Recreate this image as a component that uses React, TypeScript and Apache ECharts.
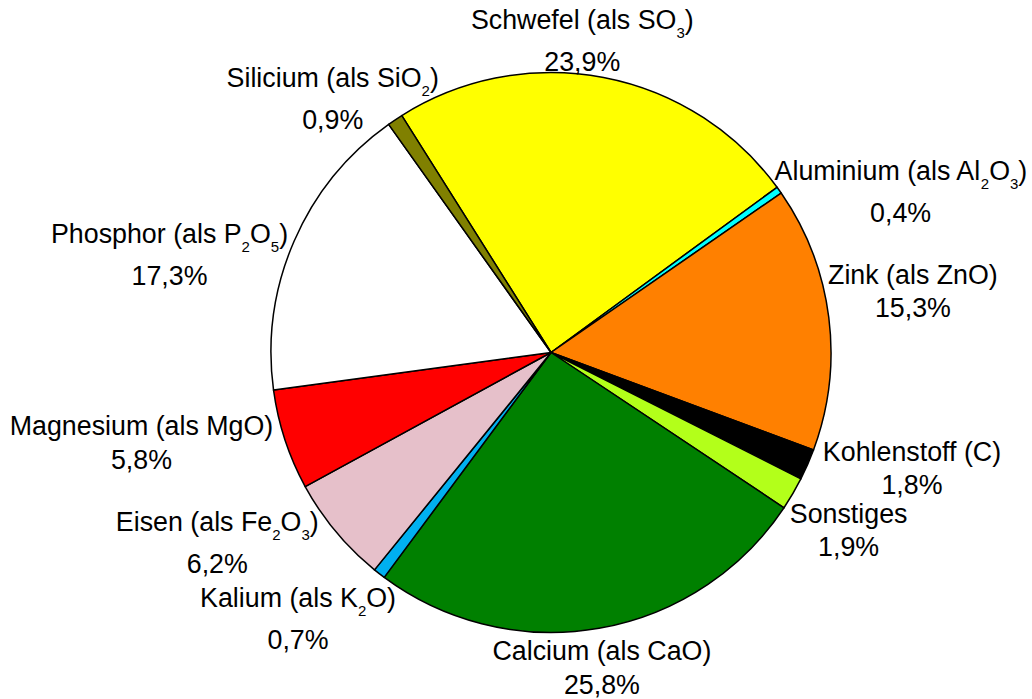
import React, { useEffect, useRef } from 'react';
import * as echarts from 'echarts';

// ---- data ----
const categories: string[] = [
  'Schwefel (als SO3)',
  'Aluminium (als Al2O3)',
  'Zink (als ZnO)',
  'Kohlenstoff (C)',
  'Sonstiges',
  'Calcium (als CaO)',
  'Kalium (als K2O)',
  'Eisen (als Fe2O3)',
  'Magnesium (als MgO)',
  'Phosphor (als P2O5)',
  'Silicium (als SiO2)',
];
const shares: number[] = [23.9, 0.4, 15.3, 1.8, 1.9, 25.8, 0.7, 6.2, 5.8, 17.3, 0.9];
const sliceColors: string[] = [
  '#FFFF00', '#00FFFF', '#FF8000', '#000000', '#B3FF1A', '#008000',
  '#00B0F0', '#E6C0CA', '#FF0000', '#FFFFFF', '#808000',
];

// ---- layout ----
const CX = 551;
const CY = 352.5;
const R = 280;
const START_ANGLE = 122.2; // degrees, ECharts convention (90 = 12 o'clock)
const GAP = 15;
// fine adjustment of each label relative to the computed outside position
const LABEL_NUDGE: number[][] = [
  [-45, 15], [6, 33.6], [-15, -17], [9, -11], [-8, 17.5], [-18.5, -1.5],
  [-12, 9.5], [-29, -17], [-4, -7.5], [-2, 36.5], [5, 23.5],
];
const FONT = "'Liberation Sans', Arial, Helvetica, sans-serif";

function richName(name: string): string {
  // digits in the chemical formulas are subscripts
  return name
    .split(/(\d+)/)
    .filter((s) => s.length > 0)
    .map((s) => (/^\d+$/.test(s) ? `{s|${s}}` : `{n|${s}}`))
    .join('');
}

function midAnglesRad(): number[] {
  const total = shares.reduce((a, b) => a + b, 0);
  let cum = 0;
  const startClockFromTop = 90 - START_ANGLE;
  return shares.map((v) => {
    const mid = startClockFromTop + ((cum + v / 2) / total) * 360;
    cum += v;
    return (mid * Math.PI) / 180;
  });
}

export default function App() {
  const ref = useRef<HTMLDivElement>(null);

  useEffect(() => {
    document.body.style.margin = '0';
    if (!ref.current) return;
    const chart = echarts.init(ref.current, undefined, { renderer: 'svg' });
    const mids = midAnglesRad();

    chart.setOption({
      animation: false,
      backgroundColor: '#FFFFFF',
      series: [
        {
          type: 'pie',
          center: [CX, CY],
          radius: [0, R],
          startAngle: START_ANGLE,
          clockwise: true,
          avoidLabelOverlap: false,
          silent: true,
          itemStyle: { borderColor: '#000000', borderWidth: 1.5 },
          label: {
            show: true,
            position: 'outside',
            color: '#000000',
            fontFamily: FONT,
            formatter: (p: any) =>
              `${richName(p.name)}\n{p|${Number(p.value).toFixed(1).replace('.', ',')}%}`,
            rich: {
              n: { fontSize: 26.8, lineHeight: 33.5, verticalAlign: 'top', fontFamily: FONT, color: '#000' },
              s: { fontSize: 15, lineHeight: 41.5, padding: [18, 0, 0, 0], verticalAlign: 'top', fontFamily: FONT, color: '#000' },
              p: { fontSize: 26.8, lineHeight: 33.5, verticalAlign: 'top', fontFamily: FONT, color: '#000' },
            },
          },
          labelLine: { show: false },
          labelLayout: (params: any) => {
            const i = params.dataIndex;
            const a = mids[i];
            const ux = Math.sin(a);
            const uy = -Math.cos(a);
            const w = params.labelRect.width;
            const h = params.labelRect.height;
            const d = R + GAP;
            const nudge = LABEL_NUDGE[i] || [0, 0];
            return {
              x: CX + d * ux + (ux * w) / 2 + nudge[0],
              y: CY + d * uy + (uy * h) / 2 + nudge[1],
              align: 'center',
              verticalAlign: 'middle',
            };
          },
          data: categories.map((name, i) => ({
            name,
            value: shares[i],
            itemStyle: { color: sliceColors[i] },
          })),
        },
      ],
    });

    return () => {
      chart.dispose();
    };
  }, []);

  return <div ref={ref} style={{ width: 1032, height: 699 }} />;
}
